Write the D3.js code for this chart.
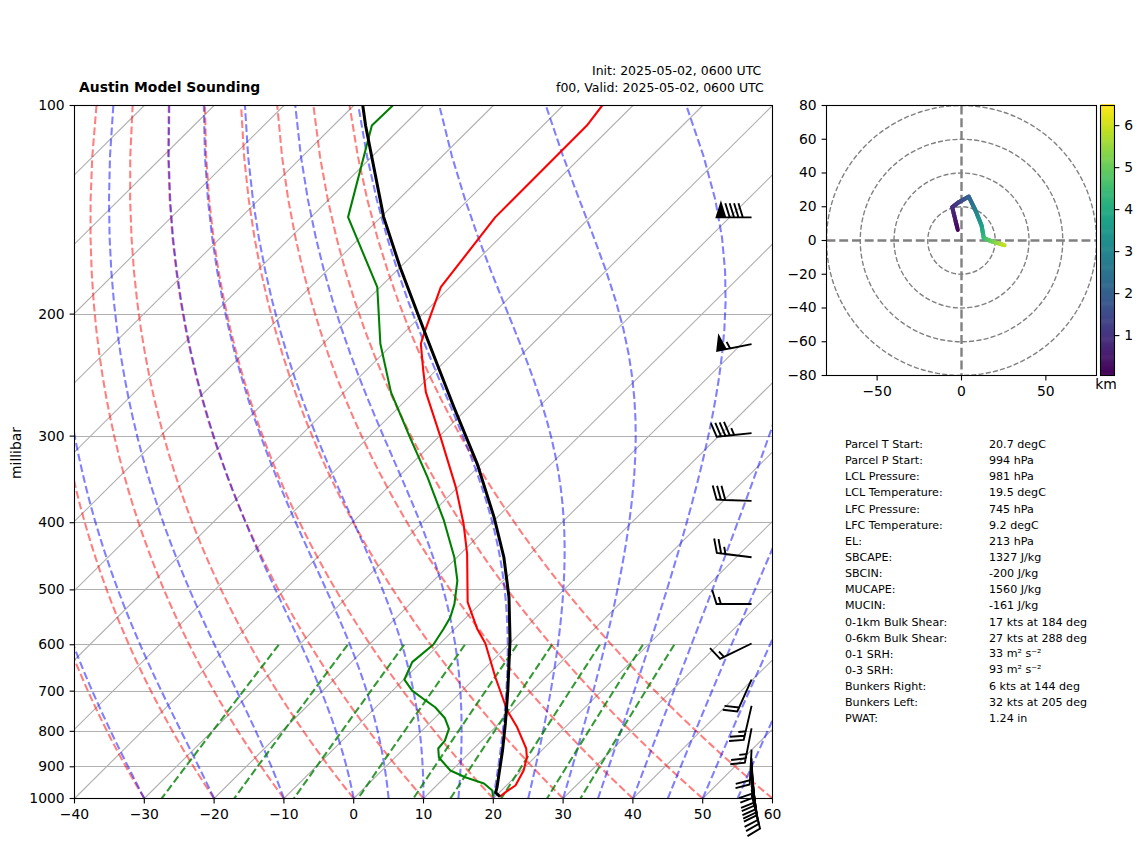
<!DOCTYPE html>
<html><head><meta charset="utf-8">
<script src="https://cdnjs.cloudflare.com/ajax/libs/d3/7.8.5/d3.min.js"></script>
<style>html,body{margin:0;padding:0;background:#fff}svg{display:block}text{font-family:"DejaVu Sans",sans-serif;fill:#000}</style>
</head><body><svg id="c" width="1142" height="844"></svg>
<script>
// ---- data ----
const tempP  = [100,106.9,144.9,182.9,213.5,220.7,241.2,259.2,301,355.4,401.4,443.6,520.9,569,597.5,669,746.5,790,847,872.8,911,957.7,976,994];
const tempT  = [-64.4,-63.7,-63.6,-61.3,-57,-56,-51.8,-48.3,-39.7,-30.3,-23.9,-19.05,-12,-6.8,-3.5,2.85,9.3,13.2,17.5,18.9,20.3,21.3,20.9,20.7];
const dewP   = [100,106.9,144.9,182.9,220.7,259.2,301,343.8,397,448.6,484.7,523.8,547.7,569,599.5,635.6,673.5,698.6,722,738.4,766,793.5,824.9,847,872.8,911,931.7,951.4,973.8,994];
const dewT   = [-94.4,-94.5,-84.7,-70.4,-61.8,-53.3,-44.1,-35.8,-27.2,-20.4,-16.6,-13.65,-12.3,-11.6,-10.8,-11.3,-9.9,-7.2,-3.85,-1.5,1.5,3.6,4.7,4.9,6.3,9.8,12.9,16.5,18.7,19.7];
const parcelP = [100,106.9,144.9,171.2,217.1,272.5,328.9,392.6,448.6,512.3,591.6,698.6,779.3,852.7,963,981,994];
const parcelT = [-98.7,-95.4,-79.6,-70,-55.8,-42.1,-30.6,-20.5,-13.3,-6.8,-0.4,6.5,10.9,14.4,18.9,19.5,20.7];
const windP   = [145,221,297,372,448.6,524,597.5,673.5,735,792,850,875,887,902,911,923,933,942,958,971,987];
const windSpd = [90,55,45,30,25,15,15,20,25,25,20,10,10,10,10,10,10,10,10,10,10];
const windDir = [270,259,264,272,277,270,244,204,193,191,183,178,176,175,174,173,172,171,170,168,166];
const hodoU = [-2.2,-5.5,-1.6,4.3,8.3,11.9,13.2,18.2,25.5];
const hodoV = [6.3,19.7,22.7,26,17.8,8.9,1.4,-0.6,-2.8];
const hodoH = [0.1,0.8,1.2,2.0,2.8,3.6,4.3,5.0,5.9];
const dryT0 = [-40,-30,-20,-10,0,10,20,30,40,50,60];
const moistT0 = [-40,-30,-20,-10,0,5,10,15,20,25,30,35,40,45,50,55,60];
const mixW = [0.0004,0.001,0.002,0.004,0.007,0.01,0.016,0.024,0.032];
const pTicks = [100,200,300,400,500,600,700,800,900,1000];
const tTicks = [-40,-30,-20,-10,0,10,20,30,40,50,60];
const isoT = d3.range(-150,61,10);
const hodoRings = [20,40,60,80];
const hodoXTicks = [-50,0,50];
const hodoYTicks = [-80,-60,-40,-20,0,20,40,60,80];
const cbarTicks = [1,2,3,4,5,6];
const titleLeft = "Austin Model Sounding";
const titleInit = "Init: 2025-05-02, 0600 UTC";
const titleValid = "f00, Valid: 2025-05-02, 0600 UTC";
const statLabels = ["Parcel T Start:","Parcel P Start:","LCL Pressure:","LCL Temperature:","LFC Pressure:","LFC Temperature:","EL:","SBCAPE:","SBCIN:","MUCAPE:","MUCIN:","0-1km Bulk Shear:","0-6km Bulk Shear:","0-1 SRH:","0-3 SRH:","Bunkers Right:","Bunkers Left:","PWAT:"];
const statValues = ["20.7 degC","994 hPa","981 hPa","19.5 degC","745 hPa","9.2 degC","213 hPa","1327 J/kg","-200 J/kg","1560 J/kg","-161 J/kg","17 kts at 184 deg","27 kts at 288 deg","33 m² s⁻²","93 m² s⁻²","6 kts at 144 deg","32 kts at 205 deg","1.24 in"];

// ---- layout ----
const L=74.5,R=772.5,T=105.5,B=798.5;
const minus = s => String(s).replace("-","\u2212");
const svg = d3.select("#c");
const x = d3.scaleLinear().domain([-40,60]).range([L,R]);
const y = d3.scaleLog().domain([1000,100]).range([B,T]);
const skew = (R-L)/(B-T);
const sx = (t,p) => x(t)+(B-y(p))*skew;
const line = d3.line().x(d=>sx(d[1],d[0])).y(d=>y(d[0]));

svg.append("defs").append("clipPath").attr("id","clipSkew").append("rect").attr("x",L).attr("y",T).attr("width",R-L).attr("height",B-T);
const plot = svg.append("g").attr("clip-path","url(#clipSkew)");

// grid
plot.selectAll(".iso").data(isoT).join("line").attr("x1",d=>sx(d,1000)).attr("y1",B).attr("x2",d=>sx(d,100)).attr("y2",T)
  .attr("stroke","#b0b0b0").attr("stroke-width",1.1);
plot.selectAll(".hl").data(pTicks).join("line").attr("x1",L).attr("x2",R).attr("y1",d=>Math.round(y(d)-.5)+.5).attr("y2",d=>Math.round(y(d)-.5)+.5)
  .attr("stroke","#b0b0b0").attr("stroke-width",1.1);

// background curves
const pLevels = d3.range(0,50).map(i=>1000-900*i/49);
const dash = "7.7,3.33";
plot.selectAll(".dry").data(dryT0).join("path").attr("fill","none").attr("stroke","#f00").attr("stroke-opacity",.5)
  .attr("stroke-width",2.08).attr("stroke-dasharray",dash)
  .attr("d",t0=>line(pLevels.map(p=>[p,(t0+273.15)*Math.pow(p/1000,0.28571)-273.15])));

function moistCurve(t0){
  const Rd=287.05,Cp=1005,Lv=2.501e6,eps=0.62197;
  const f=(p,K)=>{const c=K-273.15,es=6.112*Math.exp(17.67*c/(c+243.5)),rs=eps*es/Math.max(p-es,1);
    return (Rd*K+Lv*rs)/(Cp+Lv*Lv*rs*eps/(Rd*K*K))/p;};
  let K=t0+273.15,p=1000;const out=[[p,t0]];
  for(let i=1;i<pLevels.length;i++){
    const n=8,h=(pLevels[i]-p)/n;
    for(let j=0;j<n;j++){
      const a=f(p,K),b=f(p+h/2,K+h*a/2),c=f(p+h/2,K+h*b/2),d=f(p+h,K+h*c);
      K+=h*(a+2*b+2*c+d)/6;p+=h;
    }
    out.push([p,K-273.15]);
  }
  return out;
}
plot.selectAll(".moist").data(moistT0).join("path").attr("fill","none").attr("stroke","#00f").attr("stroke-opacity",.5)
  .attr("stroke-width",2.08).attr("stroke-dasharray",dash).attr("d",t0=>line(moistCurve(t0)));

const mixLevels = d3.range(0,50).map(i=>600+400*i/49);
plot.selectAll(".mix").data(mixW).join("path").attr("fill","none").attr("stroke","#008000").attr("stroke-opacity",.8)
  .attr("stroke-width",2.08).attr("stroke-dasharray",dash)
  .attr("d",w=>line(mixLevels.map(p=>{const l=Math.log(p*w/(w+0.62197)/6.112);return [p,243.5*l/(17.67-l)];})));

// profiles
const zip=(a,b)=>a.map((v,i)=>[v,b[i]]);
const prof=(a,b,c,w)=>plot.append("path").attr("fill","none").attr("stroke",c).attr("stroke-width",w).attr("stroke-linejoin","round").attr("d",line(zip(a,b)));
prof(tempP,tempT,"#f00",2.08);
prof(dewP,dewT,"#008000",2.08);
prof(parcelP,parcelT,"#000",3);

// axes
const axL = svg.append("g").attr("transform",`translate(${L},0)`).call(d3.axisLeft(y).offset(0).tickValues(pTicks).tickFormat(d=>d).tickSizeOuter(0).tickSize(4.9).tickPadding(4.9));
const axB = svg.append("g").attr("transform",`translate(0,${B})`).call(d3.axisBottom(x).offset(0).tickValues(tTicks).tickFormat(minus).tickSizeOuter(0).tickSize(4.9).tickPadding(5.6));
function styleAxis(g){g.select(".domain").remove();g.selectAll("line").attr("stroke","#000").attr("stroke-width",1.1);g.selectAll("text").attr("font-size",13.9).attr("font-family","DejaVu Sans").attr("fill","#000");}
styleAxis(axL);styleAxis(axB);
svg.append("rect").attr("x",L).attr("y",T).attr("width",R-L).attr("height",B-T).attr("fill","none").attr("stroke","#000").attr("stroke-width",1.1);
svg.append("text").attr("transform","translate(21,453) rotate(-90)").attr("text-anchor","middle").attr("font-size",13.9).text("millibar");

// titles
svg.append("text").attr("x",79).attr("y",92).attr("font-size",13.9).attr("font-weight","bold").text(titleLeft);
svg.append("text").attr("x",592).attr("y",75).attr("font-size",12.5).text(titleInit);
svg.append("text").attr("x",556).attr("y",92).attr("font-size",12.5).text(titleValid);

// barbs
function barb(speed,dir,px,py){
  const len=35,sp=len*.125,ht=len*.4,wd=len*.25;
  const a=dir*Math.PI/180,u=-Math.sin(a),v=-Math.cos(a),phi=Math.atan2(v,u)+Math.PI/2;
  const nf=Math.floor(speed/50),nb=Math.floor((speed%50)/10),half=(speed%10)>=5;
  const pts=[[0,0]];let off=len;
  for(let i=0;i<nf;i++){if(off!==len)off+=sp/2;pts.push([0,off],[ht,off-wd/2],[0,off-wd]);off-=wd+sp;}
  for(let i=0;i<nb;i++){pts.push([0,off],[ht,off+wd/2],[0,off]);off-=sp;}
  if(half){if(off===len)off-=1.5*sp;pts.push([0,off],[ht/2,off+wd/4],[0,off]);}
  return "M"+pts.map(q=>[px+q[0]*Math.cos(phi)-q[1]*Math.sin(phi),py-(q[0]*Math.sin(phi)+q[1]*Math.cos(phi))].map(n=>n.toFixed(2)).join(",")).join("L")+"Z";
}
svg.append("g").selectAll("path").data(windP).join("path").attr("fill","#000").attr("stroke","#000").attr("stroke-width",1.9).attr("stroke-linejoin","miter")
  .attr("d",(p,i)=>barb(windSpd[i],windDir[i],L+.97*(R-L),y(p)));

// hodograph
const HL=826.5,HR=1096.5,HT=105.5,HB=375.5;
const hx=d3.scaleLinear().domain([-80,80]).range([HL,HR]);
const hy=d3.scaleLinear().domain([-80,80]).range([HB,HT]);
svg.select("defs").append("clipPath").attr("id","clipHodo").append("rect").attr("x",HL).attr("y",HT).attr("width",HR-HL).attr("height",HB-HT);
const hodo=svg.append("g").attr("clip-path","url(#clipHodo)");
hodo.selectAll("circle").data(hodoRings).join("circle").attr("cx",hx(0)).attr("cy",hy(0)).attr("r",d=>hx(d)-hx(0))
  .attr("fill","none").attr("stroke","#808080").attr("stroke-width",1.39).attr("stroke-dasharray","5.1,2.2");
hodo.append("line").attr("x1",HL).attr("x2",HR).attr("y1",hy(0)).attr("y2",hy(0)).attr("stroke","#808080").attr("stroke-width",2.4).attr("stroke-dasharray","8.9,3.85");
hodo.append("line").attr("y1",HT).attr("y2",HB).attr("x1",hx(0)).attr("x2",hx(0)).attr("stroke","#808080").attr("stroke-width",2.4).attr("stroke-dasharray","8.9,3.85");
const cvmin=0.05,cvmax=6.48;
const cmap=d3.scaleSequential(d3.interpolateViridis).domain([cvmin,cvmax]);
const segs=[];
hodoU.forEach((u,i)=>{if(i===hodoU.length-1)return;const n=8;for(let k=0;k<n;k++){const f=k/n,g=(k+1)/n;
  segs.push({x1:u+(hodoU[i+1]-u)*f,y1:hodoV[i]+(hodoV[i+1]-hodoV[i])*f,x2:u+(hodoU[i+1]-u)*g,y2:hodoV[i]+(hodoV[i+1]-hodoV[i])*g,h:hodoH[i]+(hodoH[i+1]-hodoH[i])*(f+g)/2});}});
hodo.selectAll(".seg").data(segs).join("line").attr("x1",d=>hx(d.x1)).attr("y1",d=>hy(d.y1)).attr("x2",d=>hx(d.x2)).attr("y2",d=>hy(d.y2))
  .attr("stroke",d=>cmap(d.h)).attr("stroke-width",4.17).attr("stroke-linecap","round");
const hax=svg.append("g").attr("transform",`translate(0,${HB})`).call(d3.axisBottom(hx).offset(0).tickValues(hodoXTicks).tickFormat(minus).tickSizeOuter(0).tickSize(4.9).tickPadding(5.6));
const hay=svg.append("g").attr("transform",`translate(${HL},0)`).call(d3.axisLeft(hy).offset(0).tickValues(hodoYTicks).tickFormat(minus).tickSizeOuter(0).tickSize(4.9).tickPadding(4.9));
styleAxis(hax);styleAxis(hay);
svg.append("rect").attr("x",HL).attr("y",HT).attr("width",HR-HL).attr("height",HB-HT).attr("fill","none").attr("stroke","#000").attr("stroke-width",1.1);

// colorbar
const CL=1100.5,CR=1114.5;
const cy=d3.scaleLinear().domain([cvmin,cvmax]).range([HB,HT]);
const cg=svg.append("g");
const cSteps=d3.range(0,256).map(i=>cvmin+(cvmax-cvmin)*i/255);
cg.selectAll("rect").data(cSteps).join("rect").attr("x",CL).attr("width",CR-CL).attr("y",d=>cy(d)-(HB-HT)/256-.3).attr("height",(HB-HT)/256+.6).attr("fill",d=>cmap(d));
const cax=svg.append("g").attr("transform",`translate(${CR},0)`).call(d3.axisRight(cy).offset(0).tickValues(cbarTicks).tickFormat(d=>d).tickSizeOuter(0).tickSize(4.9).tickPadding(4.9));
styleAxis(cax);
svg.append("rect").attr("x",CL).attr("y",HT).attr("width",CR-CL).attr("height",HB-HT).attr("fill","none").attr("stroke","#000").attr("stroke-width",1.1);
svg.append("text").attr("x",1106).attr("y",389).attr("text-anchor","middle").attr("font-size",13.9).text("km");

// stats table
const sg=svg.append("g").attr("font-size",11.1);
statLabels.forEach((s,i)=>{
  const yy=448+16.14*i;
  sg.append("text").attr("x",845).attr("y",yy).text(s);
  sg.append("text").attr("x",989).attr("y",yy-(statValues[i].includes("²")?1:0)).text(statValues[i]);
});
</script></body></html>
